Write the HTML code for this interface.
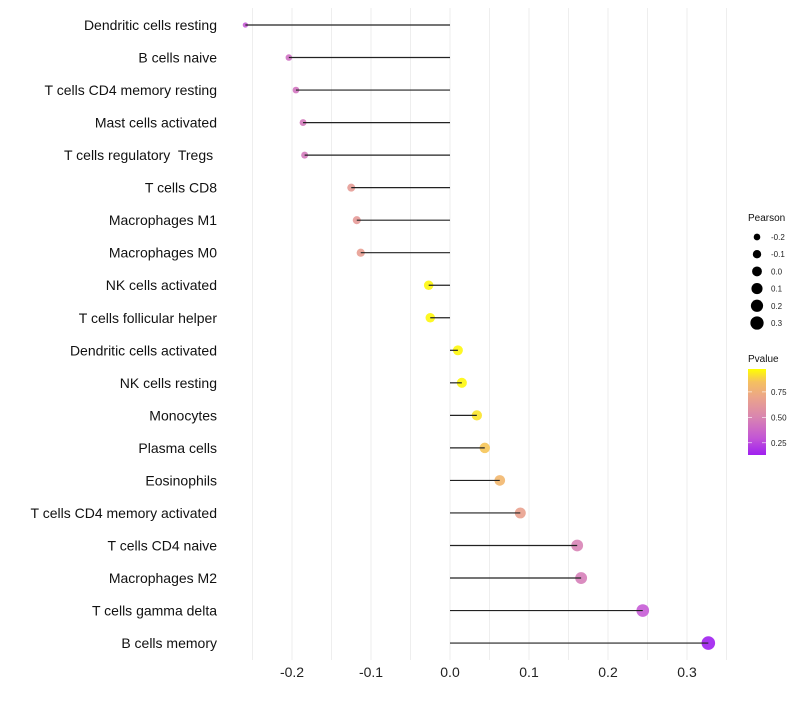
<!DOCTYPE html>
<html><head><meta charset="utf-8"><style>
body{margin:0;background:#fff;font-family:"Liberation Sans",sans-serif}
text{white-space:pre}
</style></head><body>
<svg id="c" width="800" height="700" xmlns="http://www.w3.org/2000/svg">
<defs><linearGradient id="pg" x1="0" y1="1" x2="0" y2="0">
<stop offset="0" stop-color="#a020f0"/><stop offset="0.2" stop-color="#c356d5"/><stop offset="0.44" stop-color="#d985b0"/><stop offset="0.67" stop-color="#eba48a"/><stop offset="0.85" stop-color="#f5c060"/><stop offset="1" stop-color="#ffff00"/></linearGradient></defs>
</svg>
<script>
const categories=["Dendritic cells resting","B cells naive","T cells CD4 memory resting","Mast cells activated","T cells regulatory  Tregs ","T cells CD8","Macrophages M1","Macrophages M0","NK cells activated","T cells follicular helper","Dendritic cells activated","NK cells resting","Monocytes","Plasma cells","Eosinophils","T cells CD4 memory activated","T cells CD4 naive","Macrophages M2","T cells gamma delta","B cells memory"];
const pearson=[-0.259,-0.204,-0.195,-0.186,-0.184,-0.125,-0.118,-0.113,-0.027,-0.025,0.010,0.015,0.034,0.044,0.063,0.089,0.161,0.166,0.244,0.327];
const pvalue=[0.30,0.40,0.42,0.44,0.44,0.64,0.63,0.66,0.96,0.96,0.96,0.96,0.92,0.86,0.80,0.68,0.48,0.46,0.30,0.13];
const xTicks=[-0.2,-0.1,0.0,0.1,0.2,0.3];
const xTickLabels=["-0.2","-0.1","0.0","0.1","0.2","0.3"];
const sizeLegend=[-0.2,-0.1,0.0,0.1,0.2,0.3];
const sizeLegendLabels=["-0.2","-0.1","0.0","0.1","0.2","0.3"];
const pTicks=[0.25,0.5,0.75];
const pTickLabels=["0.25","0.50","0.75"];
const NS="http://www.w3.org/2000/svg",svg=document.getElementById('c');
const X=v=>450+v*790, Y=i=>25+i*32.53;
const R=v=>Math.max(1.6,Math.sqrt(Math.max(0,11+(v+0.2)*66)));
const stops=[[0.13,[160,32,240]],[0.3,[198,92,214]],[0.5,[218,136,178]],[0.7,[235,164,138]],[0.85,[245,192,96]],[0.975,[255,255,0]]];
function col(p){p=Math.max(0.13,Math.min(0.975,p));for(let k=0;k<stops.length-1;k++){const[a,ca]=stops[k],[b,cb]=stops[k+1];if(p<=b){const t=(p-a)/(b-a);return 'rgb('+ca.map((c,j)=>Math.round(c+(cb[j]-c)*t)).join(',')+')';}}return 'rgb(255,255,0)';}
function mk(t,a,p){const e=document.createElementNS(NS,t);for(const k in a)e.setAttribute(k,a[k]);(p||svg).appendChild(e);return e;}
for(let k=-5;k<=7;k++){const g=k*0.05;const l=mk('line',{x1:X(g),x2:X(g),y1:8,y2:660,stroke:'#eeeeee','stroke-width':1});

}
xTicks.forEach((v,i)=>{const t=mk('text',{x:X(v),y:677,'text-anchor':'middle','font-size':14,fill:'#222'});t.textContent=xTickLabels[i];

});
categories.forEach((c,i)=>{const t=mk('text',{x:217,y:Y(i)+5,'text-anchor':'end','font-size':14,fill:'#111'});t.textContent=c;


const d=mk('circle',{cx:X(pearson[i]),cy:Y(i),r:R(pearson[i]),fill:col(pvalue[i]),'fill-opacity':0.9});


const l=mk('line',{x1:X(0),x2:X(pearson[i]),y1:Y(i),y2:Y(i),stroke:'#222','stroke-width':1.2});

});
let t=mk('text',{x:748,y:221,'font-size':10,fill:'#111'});t.textContent='Pearson';


sizeLegend.forEach((v,i)=>{const y=237+i*17.2;const d=mk('circle',{cx:757,cy:y,r:R(v),fill:'#000'});


const tt=mk('text',{x:771,y:y+3,'font-size':8,fill:'#222'});tt.textContent=sizeLegendLabels[i];

});
t=mk('text',{x:748,y:362,'font-size':10,fill:'#111'});t.textContent='Pvalue';


const bar=mk('rect',{x:748,y:369,width:18,height:86,fill:'url(#pg)'});


const PY=p=>455-(p-0.13)/(0.975-0.13)*86;
pTicks.forEach((p,i)=>{mk('line',{x1:748,x2:752,y1:PY(p),y2:PY(p),stroke:'#fff','stroke-width':0.6});mk('line',{x1:762,x2:766,y1:PY(p),y2:PY(p),stroke:'#fff','stroke-width':0.6});
const tt=mk('text',{x:771,y:PY(p)+3,'font-size':8,fill:'#222'});tt.textContent=pTickLabels[i];

});
</script>
</body></html>
